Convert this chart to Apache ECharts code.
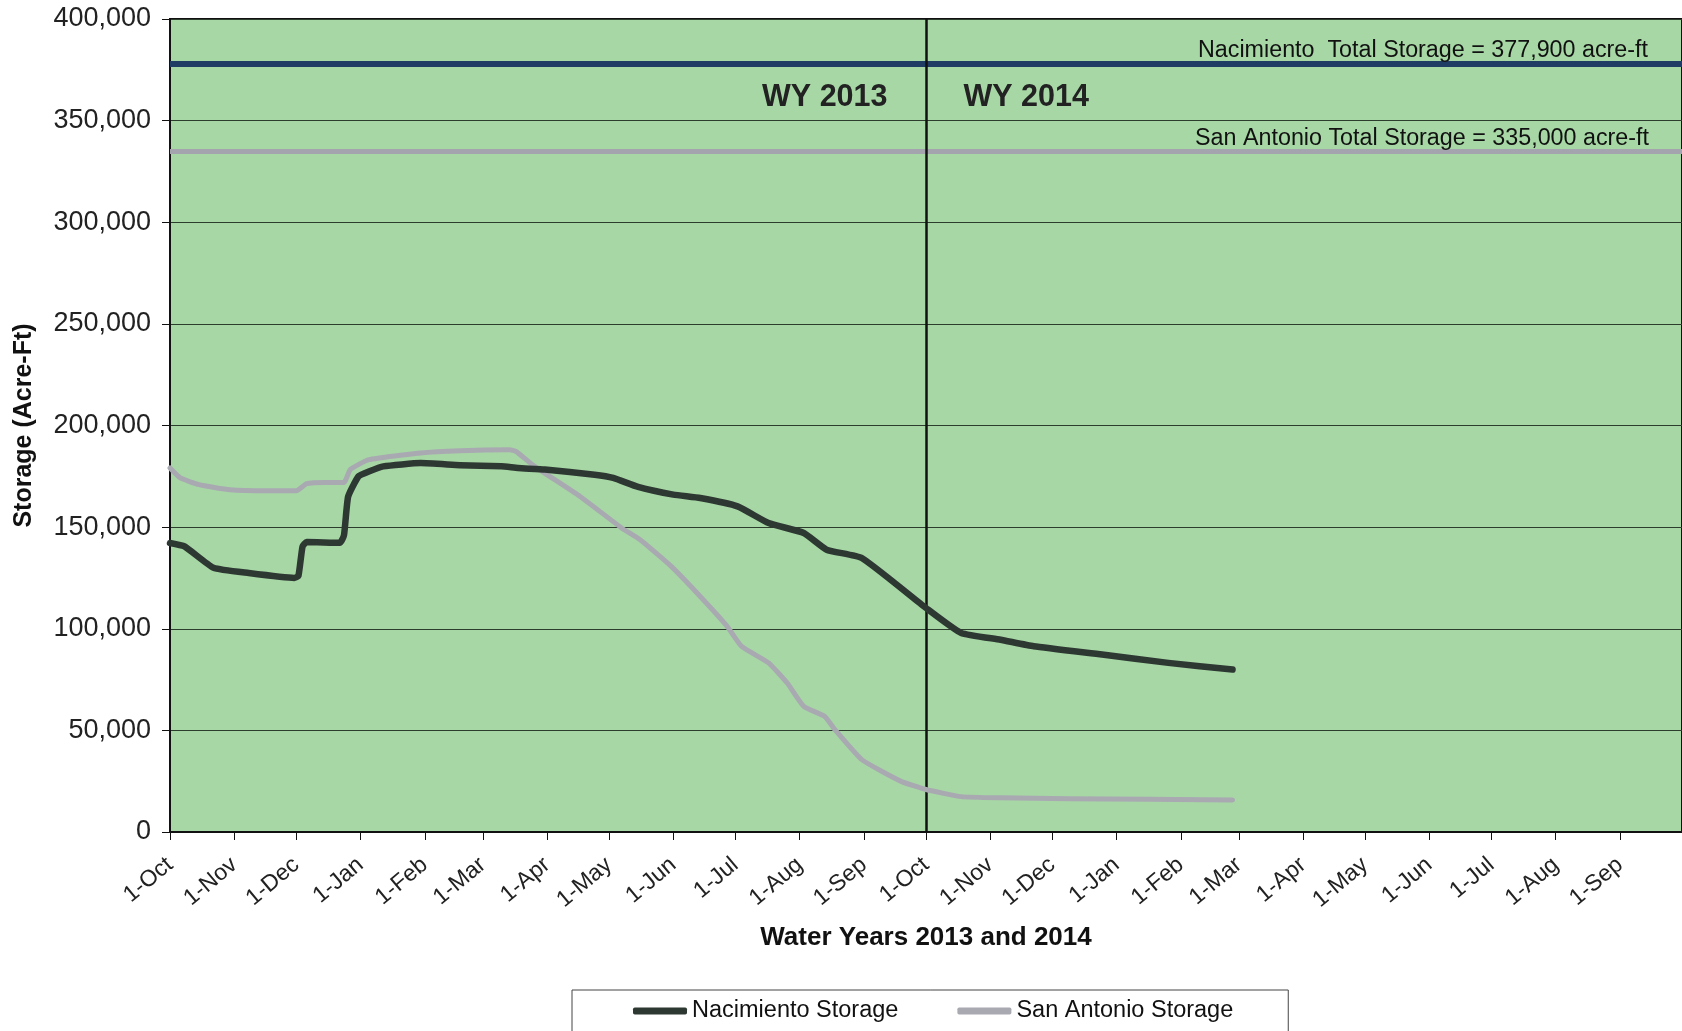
<!DOCTYPE html>
<html><head><meta charset="utf-8">
<script src="https://cdn.jsdelivr.net/npm/echarts@6/dist/echarts.min.js"></script>
<style>html,body{margin:0;padding:0;background:#fff;} #c{width:1682px;height:1031px;}</style>
</head><body><div id="c"></div>
<script>
// ---- data ----
const nacDates = ['2012-10-01','2012-10-08','2012-10-22','2012-11-08','2012-11-30','2012-12-02','2012-12-04','2012-12-06','2012-12-22','2012-12-24','2012-12-26','2012-12-31','2013-01-05','2013-01-12','2013-01-30','2013-02-18','2013-03-10','2013-03-18','2013-03-31','2013-04-24','2013-05-03','2013-05-15','2013-06-01','2013-06-14','2013-07-02','2013-07-17','2013-08-03','2013-08-14','2013-08-31','2013-10-01','2013-10-18','2013-11-06','2013-11-22','2013-12-25','2014-01-26','2014-02-26'];
const nacValues = [142200,140500,130000,127400,125000,126000,140500,142700,142300,146000,165000,175000,177400,179900,181500,180500,179900,179100,178300,175800,174200,169800,166000,164300,160200,152000,147100,138900,134800,110200,97900,94600,91400,87300,83200,79900];
const saDates = ['2012-10-01','2012-10-06','2012-10-15','2012-10-30','2012-11-17','2012-12-01','2012-12-06','2012-12-15','2012-12-24','2012-12-27','2013-01-05','2013-01-30','2013-02-18','2013-03-14','2013-03-17','2013-03-26','2013-04-17','2013-05-07','2013-05-16','2013-05-31','2013-06-14','2013-06-27','2013-07-04','2013-07-17','2013-07-26','2013-08-03','2013-08-13','2013-08-18','2013-08-31','2013-09-19','2013-10-01','2013-10-18','2013-11-06','2013-12-09','2014-02-26'];
const saValues = [179100,174200,170900,168400,167900,167900,171400,172000,172000,178300,183200,186500,187600,188100,187300,179900,165100,149600,143800,130700,115900,101200,91300,83200,73300,61800,56900,50400,35600,24900,20900,17400,16800,16400,15700];
const tickDates = ['2012-10-01','2012-11-01','2012-12-01','2013-01-01','2013-02-01','2013-03-01','2013-04-01','2013-05-01','2013-06-01','2013-07-01','2013-08-01','2013-09-01','2013-10-01','2013-11-01','2013-12-01','2014-01-01','2014-02-01','2014-03-01','2014-04-01','2014-05-01','2014-06-01','2014-07-01','2014-08-01','2014-09-01'];
const tickLabels = ['1-Oct','1-Nov','1-Dec','1-Jan','1-Feb','1-Mar','1-Apr','1-May','1-Jun','1-Jul','1-Aug','1-Sep','1-Oct','1-Nov','1-Dec','1-Jan','1-Feb','1-Mar','1-Apr','1-May','1-Jun','1-Jul','1-Aug','1-Sep'];
const axisStart = '2012-10-01', axisEnd = '2014-10-01';
const nacCapacity = 377900;
const saCapacity = 335000;
const wyBoundary = '2013-10-01';
const wyLabelValue = 361500;
const seriesNames = ['Nacimiento Storage','San Antonio Storage'];
const wyLabels = ['WY 2013','WY 2014'];

// ---- helpers: x axis is measured in days since axisStart ----
function ts(s){const p=s.split('-').map(Number);return Date.UTC(p[0],p[1]-1,p[2]);}
function day(s){return Math.round((ts(s)-ts(axisStart))/86400000);}
function fmt(v){return String(v).replace(/\B(?=(\d{3})+(?!\d))/g, ',');}
const tickDays = tickDates.map(day);
const FONT = '"Liberation Sans", Arial, sans-serif';

const chart = echarts.init(document.getElementById('c'), null, {renderer:'canvas'});
chart.setOption({
  animation:false,
  backgroundColor:'#ffffff',
  textStyle:{fontFamily:FONT},
  grid:{left:170, top:19, right:-1, bottom:199, show:true, backgroundColor:'#a7d7a5', borderColor:'#111', borderWidth:2},
  legend:{
    left:572, top:990, orient:'horizontal',
    padding:[9,55,22,61], itemGap:59, itemWidth:54, itemHeight:7, icon:'roundRect',
    borderColor:'#444', borderWidth:1, backgroundColor:'#fff',
    textStyle:{fontSize:23.5, color:'#111', fontFamily:FONT},
    data:seriesNames
  },
  xAxis:{
    type:'value', min:day(axisStart), max:day(axisEnd),
    name:'Water Years 2013 and 2014', nameLocation:'middle', nameGap:93,
    nameTextStyle:{fontSize:26, fontWeight:'bold', color:'#111'},
    axisLine:{show:true, onZero:false, lineStyle:{color:'#111', width:2}},
    axisTick:{show:true, customValues:tickDays, length:8, lineStyle:{color:'#111'}},
    axisLabel:{show:true, customValues:tickDays, rotate:40, fontSize:23, color:'#222', margin:30,
      formatter:function(v){const i=tickDays.indexOf(v);return i>=0?tickLabels[i]:'';}},
    splitLine:{show:false}
  },
  yAxis:{
    type:'value', min:0, max:400000, interval:50000,
    name:'Storage (Acre-Ft)', nameLocation:'middle', nameGap:133,
    nameTextStyle:{fontSize:25, fontWeight:'bold', color:'#111'},
    axisLine:{show:true, onZero:false, lineStyle:{color:'#111', width:2}},
    axisTick:{show:true, length:8, lineStyle:{color:'#111'}},
    axisLabel:{fontSize:27, color:'#222', margin:19, formatter:function(v){return fmt(v);}},
    splitLine:{show:true, lineStyle:{color:'#2d3d2d', width:1}}
  },
  series:[
    {
      name:seriesNames[0], type:'line', showSymbol:false, symbol:'none', smooth:0.15, z:4,
      color:'#2e3833',
      lineStyle:{color:'#2e3833', width:6.5, cap:'round', join:'round'},
      data:nacDates.map((d,i)=>[day(d), nacValues[i]]),
      markLine:{
        silent:true, symbol:['none','none'], animation:false, z:2,
        data:[
          {yAxis:nacCapacity, lineStyle:{color:'#1e3c64', width:6, type:'solid'},
           label:{show:true, position:'insideEndTop', distance:[34,2], fontSize:23.3, color:'#111', fontFamily:FONT,
                  formatter:'Nacimiento  Total Storage = ' + fmt(nacCapacity) + ' acre-ft'}},
          {yAxis:saCapacity, lineStyle:{color:'#a4a4ae', width:5, type:'solid'},
           label:{show:true, position:'insideEndTop', distance:[33,1], fontSize:23.3, color:'#111', fontFamily:FONT,
                  formatter:'San Antonio Total Storage = ' + fmt(saCapacity) + ' acre-ft'}},
          {xAxis:day(wyBoundary), lineStyle:{color:'#111', width:2.5, type:'solid'}, label:{show:false}}
        ]
      },
      markPoint:{
        silent:true, symbol:'circle', symbolSize:1, itemStyle:{color:'rgba(0,0,0,0)'},
        data:[
          {coord:[day(wyBoundary), wyLabelValue], label:{show:true, position:'left', distance:38, formatter:wyLabels[0], fontSize:30.5, fontWeight:'bold', color:'#222', fontFamily:FONT}},
          {coord:[day(wyBoundary), wyLabelValue], label:{show:true, position:'right', distance:37, formatter:wyLabels[1], fontSize:30.5, fontWeight:'bold', color:'#222', fontFamily:FONT}}
        ]
      }
    },
    {
      name:seriesNames[1], type:'line', showSymbol:false, symbol:'none', smooth:0.15, z:3,
      color:'#a9a9b2',
      lineStyle:{color:'#a9a9b2', width:5, cap:'round', join:'round'},
      data:saDates.map((d,i)=>[day(d), saValues[i]])
    }
  ]
});
</script>
</body></html>
